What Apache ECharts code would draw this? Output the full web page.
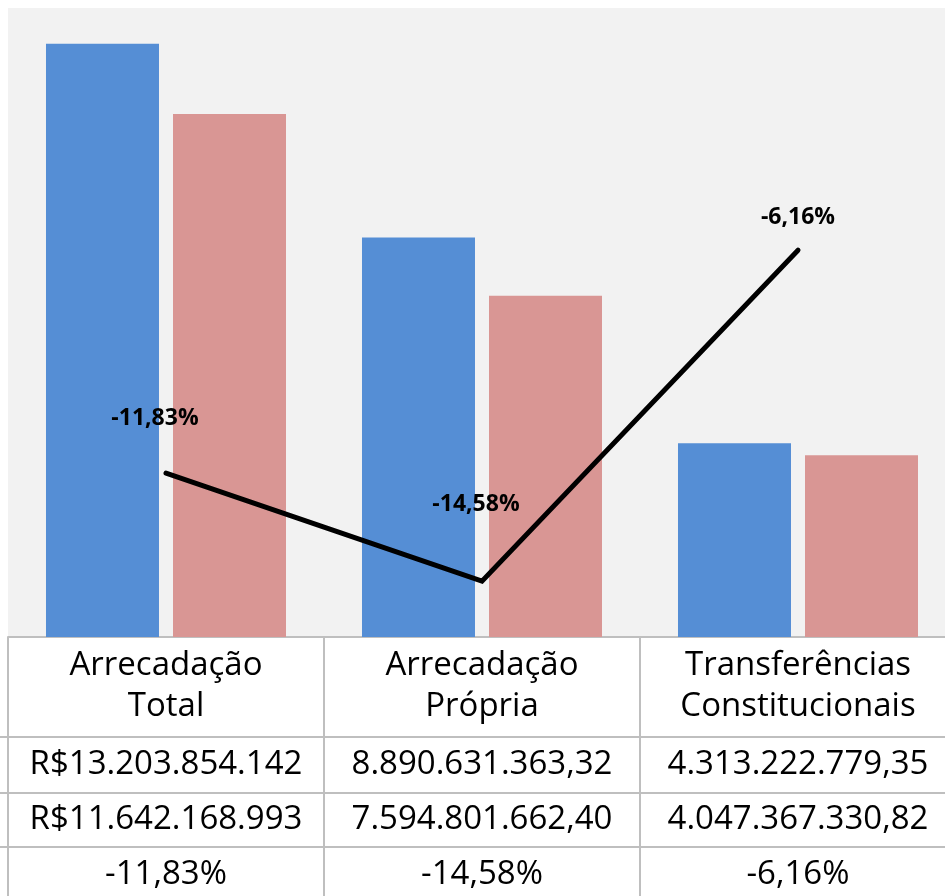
<!DOCTYPE html>
<html>
<head>
<meta charset="utf-8">
<style>
  html, body { margin: 0; padding: 0; background: #ffffff; overflow: hidden; }
  #chart { width: 960px; height: 896px; }
</style>
<script src="https://cdn.jsdelivr.net/npm/echarts@6/dist/echarts.min.js"></script>
</head>
<body>
<div id="chart"></div>
<script>
// ---- data ----
const categories = ["Arrecadação\nTotal", "Arrecadação\nPrópria", "Transferências\nConstitucionais"];
const seriesA = [13203854142, 8890631363.32, 4313222779.35];
const seriesB = [11642168993, 7594801662.40, 4047367330.82];
const variation = [-11.83, -14.58, -6.16];
const rowA = ["R$13.203.854.142", "8.890.631.363,32", "4.313.222.779,35"];
const rowB = ["R$11.642.168.993", "7.594.801.662,40", "4.047.367.330,82"];
const rowC = ["-11,83%", "-14,58%", "-6,16%"];

// ---- styling ----
const labelOffsets = [[-11, -55], [-6, -77], [0, -33]];
const rowTops = [100, 156, 210];   // table row separators, px below the plot bottom
const lineColor = '#bfbfbf';
const lineW = 2;
const tableFont = { fontFamily: 'Open Sans', fontSize: 33, color: '#000000' };

function rowAxis(data, offset, margin) {
  return {
    type: 'category', gridIndex: 0, position: 'bottom', offset: offset,
    data: data,
    axisLine: { show: false },
    axisTick: { show: false },
    axisLabel: Object.assign({ interval: 0, margin: margin, lineHeight: 40 }, tableFont),
    splitLine: { show: false }
  };
}

const chart = echarts.init(document.getElementById('chart'));
chart.setOption({
  animation: false,
  backgroundColor: '#ffffff',
  grid: [
    { left: 8, top: 8, width: 948, height: 629, show: true, backgroundColor: '#f2f2f2', borderWidth: 0 },
    { left: 0, top: 637, width: 960, height: 259, show: false }
  ],
  xAxis: [
    {
      type: 'category', data: categories, position: 'bottom',
      axisLine: { show: true, onZero: false, lineStyle: { color: lineColor, width: lineW } },
      axisTick: { show: true, interval: 0, length: 262, lineStyle: { color: lineColor, width: lineW } },
      axisLabel: Object.assign({ interval: 0, margin: 8, lineHeight: 41 }, tableFont),
      splitLine: { show: false }
    },
    rowAxis(rowA, 100, 8),
    rowAxis(rowB, 156, 7),
    rowAxis(rowC, 210, 8),
    { type: 'value', gridIndex: 1, min: 0, max: 1, show: false, splitLine: { show: false } }
  ],
  yAxis: [
    { type: 'value', min: 0, max: 14000000000, show: false, splitLine: { show: false } },
    { type: 'value', min: -16, max: 0, show: false, splitLine: { show: false } },
    { type: 'value', gridIndex: 1, min: 0, max: 259, inverse: true, show: false, splitLine: { show: false } }
  ],
  series: [
    {
      name: 'A', type: 'bar', data: seriesA, xAxisIndex: 0, yAxisIndex: 0,
      barWidth: 113, barGap: '12.4%',
      itemStyle: { color: '#558ed5' }
    },
    {
      name: 'B', type: 'bar', data: seriesB, xAxisIndex: 0, yAxisIndex: 0,
      barWidth: 113,
      itemStyle: { color: '#d99694' }
    },
    {
      name: 'Var', type: 'line', xAxisIndex: 0, yAxisIndex: 1, z: 5,
      data: variation.map((v, i) => ({
        value: v,
        label: { offset: labelOffsets[i] }
      })),
      symbol: 'circle', symbolSize: 1,
      itemStyle: { color: '#000000' },
      lineStyle: { color: '#000000', width: 5, cap: 'round', join: 'miter' },
      label: {
        show: true, position: 'inside',
        fontFamily: 'Open Sans', fontWeight: 'bold', fontSize: 23, color: '#000000',
        formatter: p => p.value.toFixed(2).replace('.', ',') + '%'
      }
    },
    {
      name: 'tableRules', type: 'custom', xAxisIndex: 4, yAxisIndex: 2, z: 20, silent: true,
      data: rowTops.map(y => [0, y]),
      clip: false,
      renderItem: function (params, api) {
        const pLeft = api.coord([0, api.value(1)]);
        const pRight = api.coord([1, api.value(1)]);
        return {
          type: 'line',
          shape: { x1: pLeft[0], y1: pLeft[1], x2: pRight[0], y2: pRight[1] },
          style: { stroke: lineColor, lineWidth: lineW }
        };
      }
    }
  ]
});
</script>
</body>
</html>
